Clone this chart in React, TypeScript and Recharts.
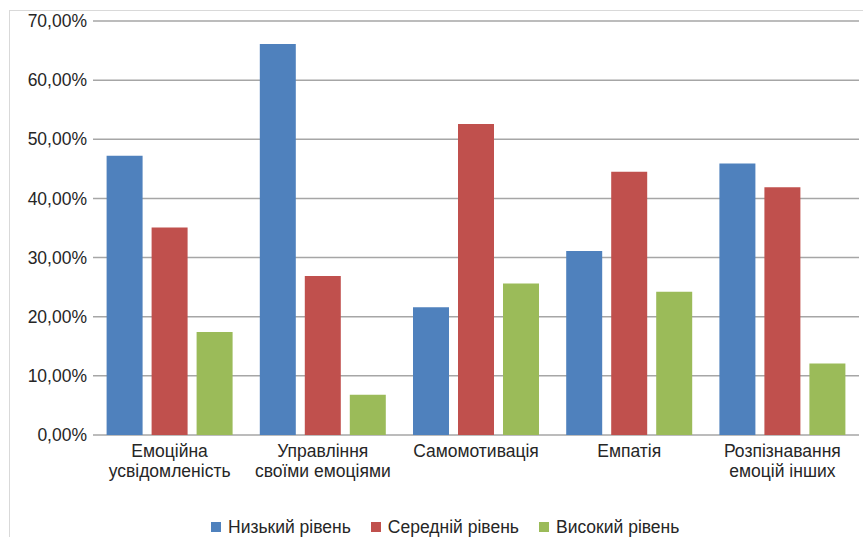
import { BarChart, Bar, XAxis, YAxis, CartesianGrid, Legend } from "recharts";

const categories = [
  "Емоційна\nусвідомленість",
  "Управління\nсвоїми емоціями",
  "Самомотивація",
  "Емпатія",
  "Розпізнавання\nемоцій інших",
];
const lowLevel = [47.2, 66.1, 21.6, 31.1, 45.9];
const midLevel = [35.1, 26.9, 52.6, 44.5, 41.9];
const highLevel = [17.4, 6.8, 25.6, 24.2, 12.1];
const yTicks = [0, 10, 20, 30, 40, 50, 60, 70];

const seriesNames = ["Низький рівень", "Середній рівень", "Високий рівень"];
const seriesColors = ["#4F81BD", "#C0504D", "#9BBB59"];

const data = categories.map((name, i) => ({
  name,
  low: lowLevel[i],
  mid: midLevel[i],
  high: highLevel[i],
}));

const FONT = "'Liberation Sans', Arial, sans-serif";
const fmt = (v: number) => `${v.toFixed(2).replace(".", ",")}%`;

function CategoryTick({ x, y, payload }: any) {
  const lines = String(payload.value).split("\n");
  return (
    <text x={x} y={y} textAnchor="middle" fill="#262626" fontSize={17.5} fontFamily={FONT}>
      {lines.map((line, i) => (
        <tspan key={i} x={x} y={y + 22 + i * 20}>
          {line}
        </tspan>
      ))}
    </text>
  );
}

function LegendContent() {
  return (
    <div style={{ display: "flex", height: 20, lineHeight: "20px", alignItems: "center", paddingLeft: 211, fontFamily: FONT, fontSize: 17.5, color: "#262626" }}>
      {seriesNames.map((n, i) => (
        <div key={n} style={{ display: "flex", alignItems: "center", marginRight: 20 }}>
          <span style={{ width: 10, height: 10, background: seriesColors[i], marginRight: 7, display: "inline-block" }} />
          <span>{n}</span>
        </div>
      ))}
    </div>
  );
}

export default function App() {
  return (
    <div style={{ position: "absolute", left: 0, top: 0, width: 863, height: 537, background: "#fff", overflow: "hidden" }}>
      <div style={{ position: "absolute", left: 9, top: 10, width: 900, height: 600, border: "1px solid #d9d9d9" }} />
      <BarChart
        width={863}
        height={537}
        data={data}
        margin={{ top: 21, right: 4, left: 8, bottom: 0 }}
        barCategoryGap={13.6}
        barGap={9}
        style={{ position: "absolute", left: 0, top: 0 }}
      >
        <CartesianGrid vertical={false} stroke="#a6a6a6" strokeWidth={1.5} />
        <XAxis
          dataKey="name"
          height={82}
          axisLine={false}
          tickLine={false}
          tickSize={0}
          tickMargin={0}
          interval={0}
          tick={<CategoryTick />}
        />
        <YAxis
          width={85}
          domain={[0, 70]}
          ticks={yTicks}
          axisLine={false}
          tickLine={false}
          tickSize={6}
          tickMargin={0}
          tickFormatter={fmt}
          tick={{ fill: "#262626", fontSize: 17.5, fontFamily: FONT }}
        />
        <Legend verticalAlign="bottom" content={<LegendContent />} wrapperStyle={{ left: 0, width: 863, bottom: 0 }} />
        <Bar dataKey="low" name={seriesNames[0]} fill={seriesColors[0]} isAnimationActive={false} />
        <Bar dataKey="mid" name={seriesNames[1]} fill={seriesColors[1]} isAnimationActive={false} />
        <Bar dataKey="high" name={seriesNames[2]} fill={seriesColors[2]} isAnimationActive={false} />
      </BarChart>
    </div>
  );
}
